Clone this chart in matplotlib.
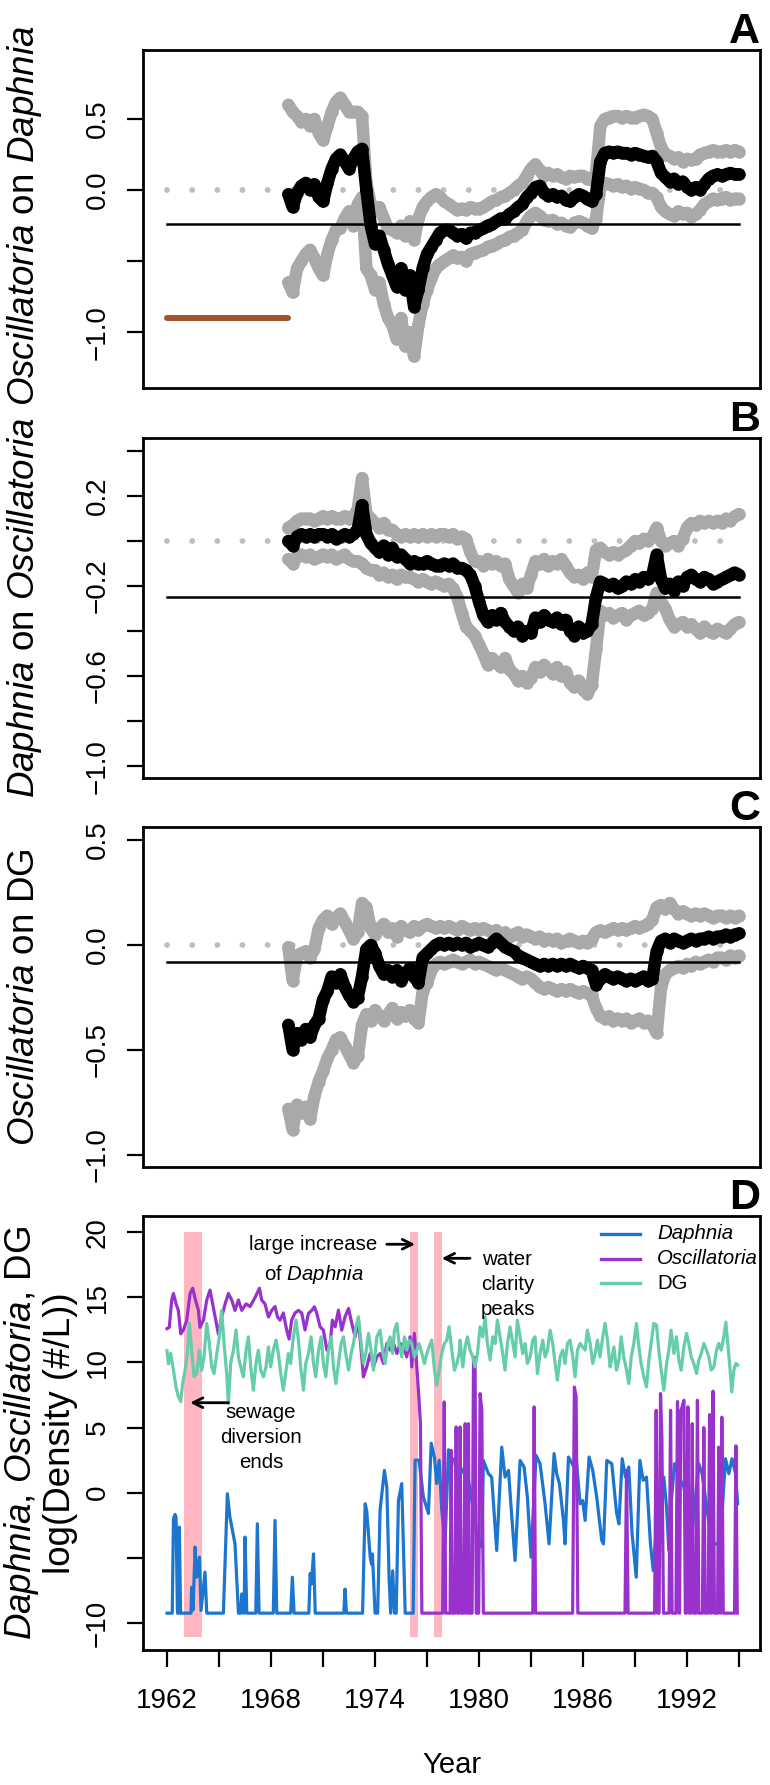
import numpy as np
import matplotlib
matplotlib.use("Agg")
import matplotlib.pyplot as plt

plt.rcParams['font.family'] = ['Liberation Sans', 'DejaVu Sans']
plt.rcParams['mathtext.fontset'] = 'custom'
plt.rcParams['mathtext.rm'] = 'Liberation Sans'
plt.rcParams['mathtext.it'] = 'Liberation Sans:italic'

# ---------------- data, panels A-C (quarterly estimates 1969-1995) ----------------
q_years = np.arange(1969.0, 1995.01, 0.25)

a_mid = [-0.03, -0.12, -0.02, 0.03,
         0.05, 0.00, 0.04, -0.05,
         -0.08, 0.05, 0.15, 0.22,
         0.25, 0.20, 0.15, 0.22,
         0.27, 0.29, 0.00, -0.25,
         -0.38, -0.32, -0.42, -0.52,
         -0.60, -0.68, -0.55, -0.70,
         -0.60, -0.82, -0.70, -0.55,
         -0.45, -0.40, -0.35, -0.30,
         -0.28, -0.28, -0.30, -0.32,
         -0.31, -0.34, -0.30, -0.30,
         -0.28, -0.27, -0.25, -0.24,
         -0.22, -0.20, -0.20, -0.17,
         -0.15, -0.12, -0.10, -0.05,
         -0.02, 0.02, 0.03, -0.02,
         -0.04, -0.03, -0.05, -0.04,
         -0.07, -0.08, -0.05, -0.03,
         -0.04, -0.06, -0.08, -0.03,
         0.20, 0.26, 0.27, 0.26,
         0.27, 0.26, 0.26, 0.25,
         0.26, 0.25, 0.24, 0.23,
         0.24, 0.20, 0.12, 0.09,
         0.06, 0.08, 0.04, 0.06,
         0.02, 0.00, 0.02, 0.00,
         0.04, 0.08, 0.10, 0.11,
         0.10, 0.11, 0.12, 0.11,
         0.11]
a_hi = [0.60, 0.55, 0.52, 0.48,
        0.50, 0.45, 0.50, 0.40,
        0.35, 0.45, 0.55, 0.62,
        0.65, 0.60, 0.55, 0.55,
        0.55, 0.52, 0.05, -0.10,
        -0.15, -0.12, -0.20, -0.27,
        -0.28, -0.30, -0.25, -0.32,
        -0.22, -0.35, -0.20, -0.12,
        -0.08, -0.05, -0.03, -0.05,
        -0.08, -0.10, -0.12, -0.14,
        -0.13, -0.14, -0.12, -0.13,
        -0.13, -0.12, -0.10, -0.08,
        -0.07, -0.05, -0.04, -0.02,
        0.00, 0.03, 0.05, 0.10,
        0.15, 0.18, 0.14, 0.10,
        0.12, 0.10, 0.11, 0.09,
        0.08, 0.10, 0.09, 0.10,
        0.10, 0.08, 0.07, 0.12,
        0.45, 0.50, 0.51, 0.52,
        0.52, 0.51, 0.52, 0.51,
        0.51, 0.52, 0.53, 0.52,
        0.50, 0.40, 0.30, 0.25,
        0.24, 0.22, 0.23, 0.20,
        0.22, 0.21, 0.22, 0.25,
        0.26, 0.27, 0.28, 0.27,
        0.27, 0.28, 0.27, 0.28,
        0.27]
a_lo = [-0.65, -0.72, -0.55, -0.50,
        -0.45, -0.42, -0.48, -0.55,
        -0.60, -0.45, -0.35, -0.28,
        -0.27, -0.20, -0.15, -0.25,
        -0.10, -0.05, -0.55, -0.60,
        -0.70, -0.65, -0.80, -0.90,
        -0.95, -1.05, -0.90, -1.10,
        -1.00, -1.17, -0.95, -0.80,
        -0.70, -0.62, -0.55, -0.52,
        -0.50, -0.48, -0.46, -0.48,
        -0.47, -0.50, -0.45, -0.44,
        -0.43, -0.42, -0.40, -0.39,
        -0.38, -0.36, -0.35, -0.33,
        -0.32, -0.30, -0.28, -0.22,
        -0.18, -0.16, -0.18, -0.21,
        -0.22, -0.21, -0.24, -0.23,
        -0.25, -0.26, -0.23, -0.22,
        -0.23, -0.25, -0.27, -0.20,
        0.02, 0.05, 0.04, 0.03,
        0.04, 0.02, 0.03, 0.01,
        0.02, 0.01, 0.00, -0.02,
        -0.02, -0.05, -0.12, -0.15,
        -0.17, -0.18, -0.15, -0.17,
        -0.16, -0.19, -0.17, -0.14,
        -0.10, -0.08, -0.06, -0.07,
        -0.06, -0.05, -0.07, -0.06,
        -0.06]

b_mid = [0.00, -0.02, 0.02, 0.03,
         0.02, 0.03, 0.02, 0.03,
         0.03, 0.02, 0.03, 0.01,
         0.02, 0.03, 0.02, 0.03,
         0.05, 0.16, 0.03, -0.01,
         -0.03, -0.05, -0.02, -0.06,
         -0.03, -0.07, -0.06, -0.08,
         -0.10, -0.09, -0.10, -0.10,
         -0.09, -0.10, -0.11, -0.11,
         -0.10, -0.11, -0.10, -0.12,
         -0.12, -0.13, -0.15, -0.20,
         -0.27, -0.33, -0.36, -0.33,
         -0.35, -0.32, -0.36, -0.38,
         -0.40, -0.38, -0.42, -0.40,
         -0.41, -0.34, -0.36, -0.33,
         -0.35, -0.36, -0.34, -0.37,
         -0.35, -0.40, -0.42, -0.38,
         -0.41, -0.40, -0.37, -0.25,
         -0.18, -0.19, -0.20, -0.19,
         -0.21, -0.20, -0.18, -0.19,
         -0.17, -0.18, -0.16, -0.17,
         -0.15, -0.06, -0.17, -0.21,
         -0.19, -0.22, -0.18, -0.20,
         -0.16, -0.15, -0.17, -0.18,
         -0.16, -0.17, -0.19, -0.18,
         -0.17, -0.16, -0.15, -0.14,
         -0.15]
b_hi = [0.06, 0.07, 0.09, 0.10,
        0.10, 0.10, 0.09, 0.10,
        0.11, 0.10, 0.11, 0.10,
        0.10, 0.11, 0.10, 0.11,
        0.14, 0.28, 0.12, 0.10,
        0.08, 0.06, 0.08, 0.05,
        0.05, 0.03, 0.02, 0.03,
        0.02, 0.03, 0.02, 0.03,
        0.02, 0.03, 0.02, 0.03,
        0.03, 0.02, 0.03, 0.01,
        0.02, 0.01, -0.05, -0.09,
        -0.09, -0.11, -0.08, -0.10,
        -0.09, -0.11, -0.10, -0.17,
        -0.20, -0.23, -0.19, -0.21,
        -0.15, -0.09, -0.10, -0.08,
        -0.11, -0.09, -0.10, -0.08,
        -0.11, -0.14, -0.16, -0.15,
        -0.17, -0.14, -0.16, -0.04,
        -0.03, -0.05, -0.06, -0.05,
        -0.06, -0.05, -0.04, -0.02,
        0.00, -0.01, 0.01, 0.00,
        0.02, 0.06, 0.00, -0.02,
        -0.01, 0.00, -0.02, 0.01,
        0.06, 0.08, 0.07, 0.09,
        0.08, 0.09, 0.08, 0.09,
        0.08, 0.10, 0.09, 0.11,
        0.12]
b_lo = [-0.08, -0.10, -0.07, -0.06,
        -0.07, -0.06, -0.08, -0.07,
        -0.06, -0.07, -0.06, -0.08,
        -0.07, -0.06, -0.08, -0.09,
        -0.09, -0.10, -0.12, -0.13,
        -0.13, -0.15, -0.14, -0.16,
        -0.15, -0.17, -0.15, -0.16,
        -0.16, -0.17, -0.18, -0.17,
        -0.18, -0.19, -0.18, -0.19,
        -0.20, -0.19, -0.21, -0.25,
        -0.32, -0.38, -0.40, -0.42,
        -0.46, -0.50, -0.55, -0.52,
        -0.54, -0.56, -0.52, -0.57,
        -0.59, -0.62, -0.60, -0.63,
        -0.61, -0.56, -0.58, -0.55,
        -0.57, -0.59, -0.56, -0.60,
        -0.58, -0.63, -0.65, -0.62,
        -0.66, -0.68, -0.64, -0.48,
        -0.31, -0.33, -0.32, -0.34,
        -0.33, -0.32, -0.35, -0.33,
        -0.32, -0.31, -0.33, -0.32,
        -0.30, -0.23, -0.27, -0.30,
        -0.35, -0.38, -0.37, -0.36,
        -0.38, -0.37, -0.39, -0.41,
        -0.38, -0.40, -0.41, -0.39,
        -0.40, -0.41, -0.39, -0.37,
        -0.36]

c_mid = [-0.38, -0.50, -0.42, -0.45,
         -0.40, -0.44, -0.38, -0.35,
         -0.26, -0.22, -0.15, -0.18,
         -0.14, -0.20, -0.24, -0.27,
         -0.25, -0.15, -0.02, 0.00,
         -0.04, -0.10, -0.14, -0.12,
         -0.15, -0.12, -0.17, -0.14,
         -0.11, -0.15, -0.18, -0.06,
         -0.04, -0.02, 0.00, 0.01,
         0.00, 0.01, 0.00, 0.01,
         0.00, 0.01, -0.01, 0.00,
         0.01, 0.00, -0.01, 0.01,
         0.03, 0.01, -0.01, -0.02,
         -0.03, -0.05, -0.06, -0.07,
         -0.08, -0.09, -0.10, -0.09,
         -0.10, -0.09, -0.10, -0.09,
         -0.10, -0.09, -0.10, -0.11,
         -0.10, -0.11, -0.12, -0.19,
         -0.16, -0.14, -0.15, -0.16,
         -0.15, -0.16, -0.17, -0.16,
         -0.17, -0.16, -0.15, -0.17,
         -0.16, -0.03, 0.02, 0.03,
         0.01, 0.03, 0.02, 0.01,
         0.02, 0.03, 0.02, 0.03,
         0.03, 0.04, 0.03, 0.04,
         0.04, 0.05, 0.04, 0.05,
         0.055]
c_hi = [-0.01, -0.17, -0.05, -0.04,
        -0.03, -0.06, -0.02, 0.08,
        0.12, 0.14, 0.10, 0.13,
        0.15, 0.11, 0.07, 0.03,
        0.06, 0.20, 0.18, 0.08,
        0.05, 0.08, 0.10, 0.06,
        0.08, 0.04, 0.09, 0.07,
        0.06, 0.09, 0.07, 0.09,
        0.10, 0.09, 0.08, 0.09,
        0.08, 0.09, 0.08, 0.07,
        0.09, 0.08, 0.07, 0.08,
        0.07, 0.08, 0.07, 0.06,
        0.07, 0.05, 0.06, 0.04,
        0.05, 0.06, 0.04, 0.05,
        0.04, 0.03, 0.04, 0.02,
        0.03, 0.02, 0.03, 0.01,
        0.02, 0.03, 0.02, 0.01,
        0.02, 0.01, 0.03, 0.06,
        0.07, 0.06, 0.07, 0.08,
        0.07, 0.08, 0.07, 0.08,
        0.09, 0.08, 0.09, 0.10,
        0.12, 0.18, 0.19, 0.17,
        0.20, 0.17, 0.15, 0.16,
        0.15, 0.14, 0.15, 0.14,
        0.15, 0.14, 0.13, 0.14,
        0.14, 0.13, 0.14, 0.13,
        0.14]
c_lo = [-0.78, -0.88, -0.76, -0.80,
        -0.77, -0.83, -0.72, -0.65,
        -0.60, -0.54, -0.50, -0.45,
        -0.44, -0.48, -0.52, -0.56,
        -0.53, -0.38, -0.33, -0.36,
        -0.31, -0.34, -0.36, -0.33,
        -0.30, -0.35, -0.32, -0.34,
        -0.31, -0.35, -0.37, -0.22,
        -0.18, -0.12, -0.09, -0.08,
        -0.09, -0.08, -0.07, -0.08,
        -0.09, -0.08, -0.07, -0.09,
        -0.08, -0.09, -0.10, -0.11,
        -0.12, -0.11, -0.12, -0.13,
        -0.14, -0.15, -0.16, -0.15,
        -0.16, -0.18, -0.20, -0.21,
        -0.20, -0.21, -0.22, -0.21,
        -0.22, -0.21, -0.22, -0.23,
        -0.22, -0.23, -0.24, -0.30,
        -0.34, -0.35, -0.34, -0.36,
        -0.35, -0.36, -0.35, -0.37,
        -0.36, -0.35, -0.37, -0.36,
        -0.38, -0.42, -0.20, -0.14,
        -0.12, -0.11, -0.10, -0.11,
        -0.09, -0.10, -0.08, -0.09,
        -0.08, -0.07, -0.08, -0.06,
        -0.06, -0.07, -0.05, -0.06,
        -0.05]

# reference lines
zero_level = 0.0
mean_a, mean_b, mean_c = -0.24, -0.247, -0.08
brown_level = -0.90
line_start, line_end = 1962, 1995

# ---------------- data, panel D (year, log density) ----------------
FLOOR = -9.25
daphnia_pts = [
    (1962.00, FLOOR), (1962.30, FLOOR), (1962.37, -2.0), (1962.46, -1.67), (1962.52, -1.9),
    (1962.60, FLOOR), (1962.66, FLOOR), (1962.71, -2.64), (1962.78, FLOOR), (1963.38, FLOOR),
    (1963.42, -7.26), (1963.50, -9.0), (1963.62, -4.18), (1963.71, -6.49), (1963.87, -4.95),
    (1963.96, -9.05), (1964.19, -6.1), (1964.29, FLOOR), (1965.25, FLOOR), (1965.48, -0.08),
    (1965.63, -1.9), (1965.92, -3.93), (1966.12, FLOOR), (1966.25, FLOOR), (1966.31, -7.77),
    (1966.40, FLOOR), (1966.45, FLOOR), (1966.50, -3.41), (1966.60, FLOOR), (1967.12, FLOOR),
    (1967.21, -2.39), (1967.31, FLOOR), (1968.13, FLOOR), (1968.23, -2.13), (1968.33, FLOOR),
    (1969.13, FLOOR), (1969.23, -6.49), (1969.33, FLOOR), (1970.18, FLOOR), (1970.26, -6.2),
    (1970.33, -7.0), (1970.45, -4.7), (1970.55, FLOOR), (1972.20, FLOOR), (1972.27, -7.4),
    (1972.35, FLOOR), (1973.28, FLOOR), (1973.43, -0.85), (1973.52, -1.4), (1973.72, -4.95),
    (1973.80, -5.5), (1973.85, -4.7), (1974.00, FLOOR), (1974.15, FLOOR), (1974.29, -1.36),
    (1974.54, 1.71), (1974.68, 0.43), (1974.81, -6.5), (1974.90, FLOOR), (1975.02, -6.0),
    (1975.12, FLOOR), (1975.22, FLOOR), (1975.35, -0.6), (1975.54, 0.7), (1975.74, FLOOR),
    (1976.20, FLOOR), (1976.31, 2.5), (1976.54, 2.5), (1976.79, -0.34), (1977.08, -1.6),
    (1977.24, 3.8), (1977.43, 2.7), (1977.56, 0.7), (1977.70, 2.5), (1977.85, -1.36),
    (1978.04, -3.9), (1978.24, 3.3), (1978.39, 2.7), (1978.58, 2.5), (1978.81, 0.43),
    (1978.95, 1.5), (1979.20, 2.0), (1979.45, 0.5), (1979.70, -1.5), (1979.87, -3.16),
    (1980.16, -4.18), (1980.25, 2.48), (1980.54, 1.46), (1980.73, 1.2), (1981.02, -4.44),
    (1981.31, 3.5), (1981.50, 1.2), (1981.70, 1.71), (1981.89, -1.87), (1982.08, -5.21),
    (1982.37, 2.48), (1982.60, 1.97), (1982.79, -0.34), (1983.00, -4.95), (1983.29, 2.87),
    (1983.52, 2.23), (1983.81, -0.85), (1984.04, -3.93), (1984.33, 3.0), (1984.48, 1.46),
    (1984.64, 0.69), (1984.87, -2.13), (1984.96, -3.93), (1985.16, 2.74), (1985.48, 1.97),
    (1985.60, 2.74), (1985.83, -0.85), (1985.98, -0.6), (1986.12, -2.13), (1986.35, 2.74),
    (1986.56, 1.71), (1986.79, -0.34), (1987.08, -3.67), (1987.18, -3.93), (1987.37, 2.48),
    (1987.66, 2.23), (1987.93, -1.5), (1988.07, -2.4), (1988.26, 2.61), (1988.45, 1.2),
    (1988.64, 1.97), (1988.83, -3.16), (1989.07, -6.49), (1989.28, 2.48), (1989.47, 0.95),
    (1989.66, 1.2), (1989.89, -3.93), (1990.05, -5.98), (1990.28, -1.87), (1990.47, -0.08),
    (1990.66, 1.2), (1990.82, -1.1), (1990.95, -4.44), (1991.05, -1.36), (1991.28, 2.23),
    (1991.53, 1.2), (1991.82, 0.43), (1992.01, -1.36), (1992.24, -3.93), (1992.49, -0.34),
    (1992.68, 2.23), (1992.87, 1.46), (1993.16, -1.36), (1993.45, -3.93), (1993.74, -3.93),
    (1993.93, -3.67), (1994.03, -1.36), (1994.22, 2.61), (1994.41, 1.46), (1994.60, 2.61),
    (1994.80, 1.46), (1994.92, -0.85)]

oscillatoria_pts = [
    (1962.00, 12.6), (1962.13, 12.7), (1962.27, 14.8), (1962.37, 15.3), (1962.52, 14.5),
    (1962.65, 14.0), (1962.79, 12.2), (1962.94, 12.5), (1963.13, 13.2), (1963.33, 15.3),
    (1963.48, 15.7), (1963.62, 14.9), (1963.81, 14.0), (1963.90, 12.7), (1964.10, 13.25),
    (1964.29, 14.8), (1964.48, 15.56), (1964.63, 14.5), (1964.77, 13.5), (1964.96, 12.2),
    (1965.15, 13.5), (1965.35, 14.5), (1965.54, 15.3), (1965.73, 14.8), (1965.92, 14.0),
    (1966.12, 14.8), (1966.31, 14.0), (1966.56, 14.5), (1966.79, 14.3), (1967.08, 15.0),
    (1967.33, 15.7), (1967.46, 14.8), (1967.65, 14.5), (1967.85, 13.5), (1968.04, 14.0),
    (1968.23, 14.3), (1968.37, 13.5), (1968.52, 13.25), (1968.71, 13.8), (1968.90, 12.5),
    (1969.04, 11.8), (1969.19, 13.25), (1969.38, 13.8), (1969.58, 14.0), (1969.77, 13.8),
    (1969.96, 12.5), (1970.16, 13.77), (1970.35, 14.0), (1970.50, 14.28), (1970.64, 13.77),
    (1970.83, 12.74), (1971.02, 12.48), (1971.22, 10.95), (1971.41, 11.46), (1971.54, 13.25),
    (1971.70, 12.74), (1971.89, 14.02), (1972.08, 12.48), (1972.27, 13.51), (1972.47, 14.15),
    (1972.66, 13.0), (1972.85, 11.97), (1973.04, 13.25), (1973.20, 10.95), (1973.33, 8.89),
    (1973.52, 9.66), (1973.72, 10.69), (1973.91, 9.66), (1974.10, 10.43), (1974.29, 10.69),
    (1974.49, 9.92), (1974.68, 11.46), (1974.87, 10.95), (1975.06, 11.46), (1975.26, 10.69),
    (1975.45, 11.46), (1975.64, 11.2), (1975.83, 10.43), (1976.02, 11.97), (1976.12, 9.66),
    (1976.27, 12.23), (1976.41, 9.66), (1976.54, 7.1), (1976.62, 5.3), (1976.70, FLOOR),
    (1977.90, FLOOR), (1977.99, 6.97), (1978.08, FLOOR), (1978.33, FLOOR), (1978.39, 3.25),
    (1978.45, FLOOR), (1978.60, FLOOR), (1978.68, 5.05), (1978.76, FLOOR), (1978.85, FLOOR),
    (1978.91, 5.05), (1978.98, FLOOR), (1979.12, FLOOR), (1979.20, 5.3), (1979.26, FLOOR),
    (1979.33, FLOOR), (1979.39, 5.3), (1979.45, FLOOR), (1979.60, FLOOR), (1979.68, 10.2),
    (1979.77, 10.4), (1979.84, FLOOR), (1979.98, FLOOR), (1980.06, 7.61), (1980.16, 6.33),
    (1980.25, FLOOR), (1983.10, FLOOR), (1983.18, 6.59), (1983.26, FLOOR), (1985.40, FLOOR),
    (1985.50, 8.12), (1985.60, 7.4), (1985.70, FLOOR), (1988.42, FLOOR), (1988.51, 1.71),
    (1988.60, FLOOR), (1990.13, FLOOR), (1990.22, 6.33), (1990.30, FLOOR), (1990.39, FLOOR),
    (1990.47, 7.61), (1990.55, 4.28), (1990.64, FLOOR), (1990.96, FLOOR), (1991.05, 6.33),
    (1991.14, FLOOR), (1991.36, FLOOR), (1991.45, 7.0), (1991.54, FLOOR), (1991.57, FLOOR),
    (1991.64, 6.33), (1991.72, 6.59), (1991.82, 7.1), (1991.90, FLOOR), (1991.97, FLOOR),
    (1992.05, 6.6), (1992.13, FLOOR), (1992.22, FLOOR), (1992.30, 5.3), (1992.38, FLOOR),
    (1992.52, FLOOR), (1992.60, 7.1), (1992.68, FLOOR), (1992.89, FLOOR), (1992.97, 5.0),
    (1993.05, FLOOR), (1993.22, FLOOR), (1993.30, 6.0), (1993.38, FLOOR), (1993.42, FLOOR),
    (1993.50, 7.8), (1993.58, FLOOR), (1993.76, FLOOR), (1993.83, 3.5), (1993.90, FLOOR),
    (1993.94, FLOOR), (1994.01, 5.8), (1994.09, FLOOR), (1994.74, FLOOR), (1994.82, 3.6),
    (1994.90, FLOOR)]

dg_pts = [
    (1962.00, 10.9), (1962.08, 9.9), (1962.21, 10.7), (1962.37, 9.4), (1962.52, 8.1),
    (1962.65, 7.4), (1962.79, 7.0), (1962.90, 8.4), (1963.04, 9.4), (1963.17, 10.7),
    (1963.29, 13.0), (1963.42, 10.95), (1963.56, 8.9), (1963.71, 9.15), (1963.87, 10.95),
    (1964.00, 9.4), (1964.13, 10.43), (1964.29, 13.0), (1964.42, 11.7), (1964.58, 9.66),
    (1964.71, 9.15), (1964.87, 10.69), (1965.02, 11.97), (1965.15, 14.0), (1965.29, 11.46),
    (1965.44, 9.15), (1965.54, 6.84), (1965.67, 9.92), (1965.83, 10.95), (1965.98, 12.5),
    (1966.12, 10.43), (1966.25, 9.66), (1966.40, 8.9), (1966.56, 10.95), (1966.69, 11.97),
    (1966.83, 9.66), (1966.98, 7.87), (1967.13, 9.92), (1967.27, 10.95), (1967.40, 9.4),
    (1967.56, 8.9), (1967.71, 9.66), (1967.85, 11.2), (1967.98, 9.66), (1968.13, 10.95),
    (1968.29, 11.72), (1968.42, 10.69), (1968.56, 9.15), (1968.71, 7.87), (1968.87, 9.41),
    (1969.00, 10.69), (1969.13, 9.92), (1969.29, 11.97), (1969.44, 13.25), (1969.58, 11.72),
    (1969.71, 9.66), (1969.87, 7.87), (1970.00, 9.92), (1970.16, 10.69), (1970.31, 11.97),
    (1970.45, 9.92), (1970.58, 8.9), (1970.74, 10.95), (1970.89, 11.97), (1971.02, 9.92),
    (1971.16, 8.9), (1971.31, 10.95), (1971.47, 11.97), (1971.60, 9.66), (1971.74, 8.38),
    (1971.89, 9.92), (1972.04, 11.46), (1972.18, 11.97), (1972.31, 10.69), (1972.47, 9.41),
    (1972.62, 10.69), (1972.76, 11.46), (1972.89, 12.74), (1973.04, 13.51), (1973.20, 11.46),
    (1973.33, 9.92), (1973.47, 10.69), (1973.62, 12.23), (1973.77, 10.95), (1973.91, 9.41),
    (1974.10, 11.97), (1974.29, 12.48), (1974.43, 10.95), (1974.58, 9.92), (1974.74, 11.46),
    (1974.87, 11.97), (1975.01, 10.69), (1975.12, 12.48), (1975.26, 13.0), (1975.39, 11.46),
    (1975.54, 10.43), (1975.70, 11.97), (1975.83, 10.95), (1975.97, 11.72), (1976.12, 11.46),
    (1976.27, 10.43), (1976.41, 10.95), (1976.54, 11.46), (1976.70, 10.69), (1976.85, 9.92),
    (1976.99, 10.69), (1977.12, 11.2), (1977.27, 11.72), (1977.43, 9.41), (1977.56, 8.25),
    (1977.70, 9.41), (1977.85, 10.69), (1978.00, 11.46), (1978.14, 11.72), (1978.27, 12.74),
    (1978.43, 10.95), (1978.58, 9.41), (1978.72, 9.92), (1978.85, 10.69), (1978.91, 11.72),
    (1979.06, 9.66), (1979.20, 11.2), (1979.33, 11.97), (1979.48, 10.95), (1979.64, 10.43),
    (1979.77, 9.66), (1979.91, 10.69), (1980.06, 12.74), (1980.21, 11.97), (1980.35, 13.51),
    (1980.48, 11.46), (1980.64, 10.18), (1980.79, 11.97), (1980.93, 11.46), (1981.06, 13.25),
    (1981.21, 11.97), (1981.37, 10.69), (1981.50, 9.41), (1981.64, 11.46), (1981.79, 12.74),
    (1981.95, 11.46), (1982.08, 10.43), (1982.21, 13.25), (1982.37, 11.97), (1982.52, 10.69),
    (1982.66, 11.46), (1982.79, 9.92), (1982.95, 10.43), (1983.10, 11.72), (1983.23, 11.97),
    (1983.37, 9.15), (1983.52, 10.69), (1983.68, 11.72), (1983.81, 10.43), (1983.95, 10.95),
    (1984.10, 12.48), (1984.25, 11.46), (1984.39, 9.92), (1984.52, 8.64), (1984.68, 10.43),
    (1984.83, 10.95), (1984.96, 9.92), (1985.10, 11.46), (1985.25, 11.72), (1985.41, 10.43),
    (1985.54, 8.89), (1985.68, 10.95), (1985.83, 11.46), (1985.98, 11.2), (1986.12, 10.95),
    (1986.25, 12.48), (1986.41, 11.46), (1986.56, 9.92), (1986.70, 10.69), (1986.83, 11.72),
    (1986.98, 10.43), (1987.14, 11.97), (1987.27, 13.0), (1987.41, 11.72), (1987.56, 9.66),
    (1987.66, 10.3), (1987.78, 11.2), (1987.93, 9.41), (1988.07, 10.18), (1988.20, 11.97),
    (1988.35, 10.43), (1988.51, 9.41), (1988.64, 8.38), (1988.78, 10.43), (1988.93, 11.46),
    (1989.08, 13.0), (1989.22, 11.2), (1989.35, 9.92), (1989.51, 8.89), (1989.66, 8.12),
    (1989.80, 10.18), (1989.93, 11.46), (1990.08, 13.0), (1990.24, 12.87), (1990.37, 10.95),
    (1990.51, 9.41), (1990.66, 7.87), (1990.82, 9.92), (1990.95, 10.95), (1991.08, 12.48),
    (1991.24, 10.69), (1991.39, 11.97), (1991.53, 10.18), (1991.66, 9.41), (1991.82, 11.2),
    (1991.97, 12.23), (1992.10, 11.46), (1992.24, 10.43), (1992.39, 9.92), (1992.55, 9.15),
    (1992.68, 10.18), (1992.82, 10.69), (1992.97, 11.46), (1993.12, 10.95), (1993.26, 10.43),
    (1993.39, 9.41), (1993.55, 9.66), (1993.70, 10.95), (1993.83, 11.46), (1993.97, 10.95),
    (1994.12, 11.97), (1994.24, 13.1), (1994.35, 11.46), (1994.47, 9.66), (1994.58, 7.74),
    (1994.70, 9.41), (1994.82, 9.92), (1994.92, 9.8)]

# shaded events (start, end)
events = [(1963.0, 1964.0), (1976.0, 1976.45), (1977.4, 1977.87)]

# ---------------- style ----------------
GREY = '#A9A9A9'
DOT_GREY = '#BEBEBE'
BLUE = '#1C75CF'
PURPLE = '#9932CC'
GREEN = '#66CDAA'
PINK = '#FFB6C1'
BROWN = '#A0522D'
MINUS = '\u2212'
DOT = 9.0   # marker size of the rolling estimates

W_PX, H_PX = 770, 1785
LEFT_PX, RIGHT_PX = 143.3, 760
XLIM = (1960.63, 1996.21)

fig = plt.figure(figsize=(W_PX / 100, H_PX / 100), dpi=100)


def make_axes(top_px, bot_px):
    ax = fig.add_axes([LEFT_PX / W_PX, 1 - bot_px / H_PX,
                       (RIGHT_PX - LEFT_PX) / W_PX, (bot_px - top_px) / H_PX])
    for s in ax.spines.values():
        s.set_linewidth(2.0)
    ax.set_xlim(*XLIM)
    ax.tick_params(axis='y', length=11.5, width=1.6, pad=12, labelsize=20)
    return ax


def set_yticks(ax, ticks, labels):
    ax.set_yticks(ticks)
    ax.set_yticklabels(labels, rotation=90, va='center')


def panel_letter(ax, letter, height_px):
    ax.text(1.0, 1 + 7 / height_px, letter, transform=ax.transAxes, ha='right',
            va='baseline', fontsize=31, fontweight='bold')


def band(ax, vals, col, z):
    # dense dots in the original: a thick round line under the dots closes the gaps
    ax.plot(q_years, vals, '-', color=col, lw=DOT, solid_capstyle='round',
            solid_joinstyle='round', zorder=z)
    ax.plot(q_years, vals, 'o', color=col, ms=DOT, mec='none', zorder=z)


def ci_panel(ax, mid, hi, lo, mean_level):
    ax.plot([line_start, line_end], [zero_level, zero_level], color=DOT_GREY, lw=4.2,
            ls=(0, (0.01, 4.3)), dash_capstyle='round', zorder=1)
    band(ax, hi, GREY, 2)
    band(ax, lo, GREY, 2)
    band(ax, mid, 'black', 3)
    ax.plot([line_start, line_end], [mean_level, mean_level], color='black', lw=1.8, zorder=4)
    ax.set_xticks([])


def ylabel(x_px, yc_px, text, size):
    fig.text(x_px / W_PX, 1 - yc_px / H_PX, text, rotation=90, ha='center',
             va='center', fontsize=size)


# Panel A
axA = make_axes(50, 388)
ci_panel(axA, a_mid, a_hi, a_lo, mean_a)
axA.plot([1962, 1969], [brown_level, brown_level], color=BROWN, lw=4.3,
         solid_capstyle='round', zorder=2)
axA.set_ylim(-1.392, 0.985)
set_yticks(axA, [0.5, 0.0, -0.5, -1.0], ['0.5', '0.0', '', MINUS + '1.0'])
panel_letter(axA, 'A', 338)
ylabel(25, 216, r'$\mathit{Oscillatoria}$ on $\mathit{Daphnia}$', 26.5)

# Panel B
axB = make_axes(438, 778)
ci_panel(axB, b_mid, b_hi, b_lo, mean_b)
axB.set_ylim(-1.053, 0.458)
set_yticks(axB, [0.4, 0.2, 0.0, -0.2, -0.4, -0.6, -0.8, -1.0],
           ['', '0.2', '', MINUS + '0.2', '', MINUS + '0.6', '', MINUS + '1.0'])
panel_letter(axB, 'B', 340)
ylabel(25, 608, r'$\mathit{Daphnia}$ on $\mathit{Oscillatoria}$', 26.5)

# Panel C
axC = make_axes(827, 1167)
ci_panel(axC, c_mid, c_hi, c_lo, mean_c)
axC.set_ylim(-1.057, 0.562)
set_yticks(axC, [0.5, 0.0, -0.5, -1.0], ['0.5', '0.0', MINUS + '0.5', MINUS + '1.0'])
panel_letter(axC, 'C', 340)
ylabel(25, 997, r'$\mathit{Oscillatoria}$ on DG', 26.5)

# Panel D
axD = make_axes(1216, 1650)
for s, e in events:
    axD.fill_between([s, e], -11.1, 20, color=PINK, lw=0, zorder=1)
for pts, col in [(daphnia_pts, BLUE), (oscillatoria_pts, PURPLE), (dg_pts, GREEN)]:
    t, v = zip(*pts)
    axD.plot(t, v, color=col, lw=2.3, zorder=2)
axD.set_ylim(-12.08, 21.25)
set_yticks(axD, [-10, -5, 0, 5, 10, 15, 20],
           [MINUS + '10', '', '0', '5', '10', '15', '20'])
year_ticks = list(range(1962, 1996, 3))
axD.set_xticks(year_ticks)
axD.set_xticklabels([str(y) if (y - 1962) % 6 == 0 else '' for y in year_ticks])
axD.tick_params(axis='x', length=12.5, width=1.6, pad=15, labelsize=20)
panel_letter(axD, 'D', 434)

# annotations
note = dict(ha='center', va='baseline', fontsize=14.7)
axD.text(1970.45, 18.64, 'large increase', **note)
axD.text(1970.45, 16.34, r'of $\mathit{Daphnia}$', **note)
axD.text(1981.64, 17.49, 'water', **note)
axD.text(1981.64, 15.57, 'clarity', **note)
axD.text(1981.64, 13.65, 'peaks', **note)
axD.text(1967.42, 5.71, 'sewage', **note)
axD.text(1967.42, 3.79, 'diversion', **note)
axD.text(1967.42, 1.87, 'ends', **note)
arrow = dict(arrowstyle='->,head_length=0.7,head_width=0.35', lw=2.0, color='black',
             shrinkA=0, shrinkB=0)
axD.annotate('', xy=(1976.31, 19.08), xytext=(1974.68, 19.08), arrowprops=arrow)
axD.annotate('', xy=(1977.85, 18.0), xytext=(1979.48, 18.0), arrowprops=arrow)
axD.annotate('', xy=(1963.33, 6.91), xytext=(1965.54, 6.91), arrowprops=arrow)

# legend drawn by hand, no frame
leg = [('Daphnia', BLUE, 'italic', 0.9578, 0.9463),
       ('Oscillatoria', PURPLE, 'italic', 0.9016, 0.8887),
       ('DG', GREEN, 'normal', 0.8463, 0.8325)]
for name, col, style, ly, ty in leg:
    axD.plot([0.7422, 0.8054], [ly, ly], color=col, lw=2.4, transform=axD.transAxes,
             clip_on=False)
    axD.text(0.8335, ty, name, style=style, fontsize=14.7, transform=axD.transAxes,
             va='baseline', ha='left', clip_on=False)

ylabel(22, 1433, r'$\mathit{Daphnia}$, $\mathit{Oscillatoria}$, DG', 26.5)
ylabel(61, 1433, 'log(Density (#/L))', 26.5)
fig.text((LEFT_PX + RIGHT_PX) / 2 / W_PX, 1 - 1773 / H_PX, 'Year', ha='center',
         va='baseline', fontsize=21)

fig.savefig('out.png', dpi=100)
